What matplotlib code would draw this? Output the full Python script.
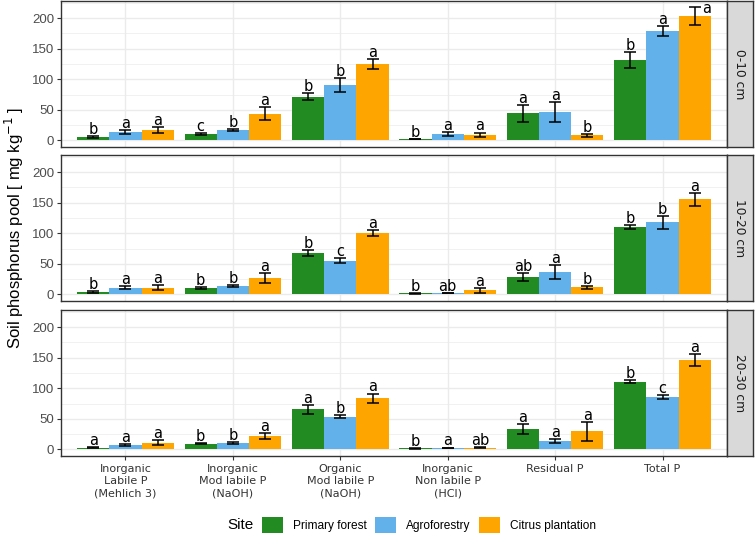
import numpy as np
import matplotlib.pyplot as plt
from matplotlib.patches import Patch

categories = ['Inorganic\nLabile P\n(Mehlich 3)', 'Inorganic\nMod labile P\n(NaOH)',
              'Organic\nMod labile P\n(NaOH)', 'Inorganic\nNon labile P\n(HCl)',
              'Residual P', 'Total P']
sites = ['Primary forest', 'Agroforestry', 'Citrus plantation']
depths = ['0-10 cm', '10-20 cm', '20-30 cm']
colors = ['#228B22', '#63B1EB', '#FFA500']

# mean values, rows = categories, columns = sites
mean_0_10 = [[5.5, 13.7, 17.4], [10.4, 17.0, 43.5], [71.2, 90.8, 124.5],
             [2.0, 10.9, 8.8], [44.0, 46.3, 8.2], [131.5, 178.8, 202.8]]
err_0_10 = [[1.0, 3.3, 5.0], [1.0, 1.5, 11.0], [5.5, 11.0, 8.0],
            [0.5, 3.3, 3.8], [14.0, 17.0, 2.0], [12.7, 8.0, 14.7]]
let_0_10 = [['b', 'a', 'a'], ['c', 'b', 'a'], ['b', 'b', 'a'],
            ['b', 'a', 'a'], ['a', 'a', 'b'], ['b', 'a', 'a']]

mean_10_20 = [[3.8, 11.0, 11.0], [10.3, 13.0, 26.7], [68.0, 55.0, 100.8],
              [1.6, 2.2, 6.5], [27.8, 36.5, 11.4], [110.6, 117.7, 155.3]]
err_10_20 = [[1.0, 2.8, 3.8], [1.0, 1.8, 7.4], [5.0, 4.4, 4.6],
             [0.5, 0.5, 4.3], [6.3, 11.7, 2.7], [3.3, 11.0, 11.0]]
let_10_20 = [['b', 'a', 'a'], ['b', 'b', 'a'], ['b', 'c', 'a'],
             ['b', 'ab', 'a'], ['ab', 'a', 'b'], ['b', 'b', 'a']]

mean_20_30 = [[2.8, 7.0, 10.9], [9.2, 10.3, 21.7], [65.2, 53.3, 83.8],
              [1.5, 2.5, 3.0], [33.2, 14.1, 29.4], [110.4, 85.4, 146.3]]
err_20_30 = [[0.7, 1.8, 4.0], [0.8, 1.0, 4.4], [7.0, 2.7, 7.5],
             [0.5, 0.5, 0.7], [7.9, 3.3, 15.8], [2.4, 2.7, 9.2]]
let_20_30 = [['a', 'a', 'a'], ['b', 'b', 'a'], ['a', 'b', 'a'],
             ['b', 'a', 'ab'], ['a', 'a', 'a'], ['b', 'c', 'a']]

means = [mean_0_10, mean_10_20, mean_20_30]
errs = [err_0_10, err_10_20, err_20_30]
letters = [let_0_10, let_10_20, let_20_30]

fig = plt.figure(figsize=(7.55, 5.37), dpi=100)
W, H = 755, 537
tops = [1, 155, 310]
ph = 146
left, right = 61, 727
x = np.arange(len(categories))
bw = 0.3

for p in range(3):
    ax = fig.add_axes([left / W, 1 - (tops[p] + ph) / H, (right - left) / W, ph / H])
    m = np.array(means[p])
    e = np.array(errs[p])
    for s in range(3):
        xs = x + (s - 1) * bw
        ax.bar(xs, m[:, s], width=bw, color=colors[s], zorder=2)
        ax.errorbar(xs, m[:, s], yerr=e[:, s], fmt='none', ecolor='black',
                    elinewidth=1.1, capsize=4.2, capthick=1.1, zorder=3)
        for i in range(len(categories)):
            ytop = m[i, s] + e[i, s]
            if ytop + 10 > 222:
                # label would run out of the panel: put it beside the error bar
                ax.text(xs[i] + 0.07, 208, letters[p][i][s], ha='left', va='baseline',
                        fontsize=10.5, color='black', zorder=4)
                continue
            ax.text(xs[i], ytop + 3.5, letters[p][i][s], ha='center', va='baseline',
                    fontsize=10.5, color='black', zorder=4)
    ax.set_xlim(-0.6, 5.6)
    ax.set_ylim(-10.9, 228)
    ax.set_yticks([0, 50, 100, 150, 200])
    ax.set_yticks([25, 75, 125, 175, 225], minor=True)
    ax.set_xticks(x)
    ax.grid(True, which='major', color='#EBEBEB', linewidth=1.0, zorder=0)
    ax.grid(True, which='minor', axis='y', color='#EBEBEB', linewidth=0.5, zorder=0)
    ax.set_axisbelow(True)
    ax.tick_params(axis='y', which='minor', length=0)
    ax.tick_params(axis='y', which='major', length=3, color='#333333',
                   labelsize=9.5, labelcolor='#4D4D4D', pad=2)
    for lab in ax.get_yticklabels():
        lab.set_family('Liberation Sans')
    for sp in ax.spines.values():
        sp.set_color('#333333')
        sp.set_linewidth(1.0)
    if p < 2:
        ax.tick_params(axis='x', length=0, labelbottom=False)
    else:
        ax.set_xticklabels(categories, fontsize=8, color='#333333', linespacing=1.25)
        ax.tick_params(axis='x', length=3, color='#333333', pad=3)

    sax = fig.add_axes([right / W, 1 - (tops[p] + ph) / H, 26 / W, ph / H])
    sax.set_facecolor('#D9D9D9')
    sax.set_xticks([])
    sax.set_yticks([])
    for sp in sax.spines.values():
        sp.set_color('#333333')
        sp.set_linewidth(1.0)
    sax.text(0.5, 0.5, depths[p], rotation=-90, ha='center', va='center',
             fontsize=8.8, color='#1A1A1A', transform=sax.transAxes)

fig.text(14 / W, 1 - 228 / H, 'Soil phosphorus pool [ mg kg$^{-1}$ ]', rotation=90,
         ha='center', va='center', fontsize=12, family='Liberation Sans')

fig.text(240 / W, 1 - 525 / H, 'Site', ha='center', va='center', fontsize=11,
         family='Liberation Sans')
handles = [Patch(facecolor=c, edgecolor='none') for c in colors]
fig.legend(handles, sites, ncol=3, loc='center', bbox_to_anchor=(429 / W, 1 - 525 / H),
           frameon=False, prop={'family': 'Liberation Sans', 'size': 8.6},
           handlelength=1.78, handleheight=1.78, handletextpad=0.84,
           columnspacing=0.67, borderpad=0, borderaxespad=0)

fig.savefig('out.png', dpi=100)
